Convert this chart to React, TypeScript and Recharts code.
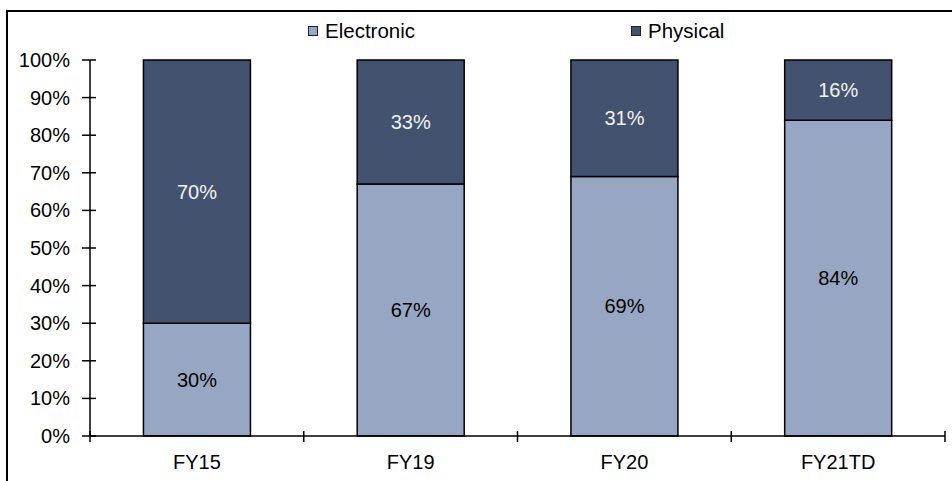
import React from 'react';
import { BarChart, Bar, XAxis, YAxis, LabelList } from 'recharts';

const categories = ['FY15', 'FY19', 'FY20', 'FY21TD'];
const electronic = [30, 67, 69, 84];
const physical = [70, 33, 31, 16];
const yTicks = [0, 10, 20, 30, 40, 50, 60, 70, 80, 90, 100];

const data = categories.map((name, i) => ({
  name,
  Electronic: electronic[i],
  Physical: physical[i],
}));

const FONT = '"Liberation Sans", Arial, sans-serif';
const FONT_SIZE = 20;
const ELECTRONIC_COLOR = '#97A7C3';
const PHYSICAL_COLOR = '#43526F';
const W = 952;
const H = 481;

// y-axis ticks: label plus a mark crossing the axis line
const YTick = (props: any) => {
  const { x, y, payload } = props;
  return (
    <g>
      <line x1={x + 12} x2={x + 26} y1={y} y2={y} stroke="#000" strokeWidth={1.5} />
      <text x={x} y={y} dy={7} textAnchor="end" fontFamily={FONT} fontSize={FONT_SIZE} fill="#000">
        {`${payload.value}%`}
      </text>
    </g>
  );
};

// x-axis ticks: category label at band centre, marks at band boundaries
const XTick = (props: any) => {
  const { x, y, payload, index, width } = props;
  const band = width / categories.length;
  const left = x - band / 2;
  const right = x + band / 2;
  return (
    <g>
      <line x1={left} x2={left} y1={y - 5} y2={y + 6} stroke="#000" strokeWidth={1.5} />
      {index === categories.length - 1 && (
        <line x1={right} x2={right} y1={y - 5} y2={y + 6} stroke="#000" strokeWidth={1.5} />
      )}
      <text x={x} y={y} dy={33} textAnchor="middle" fontFamily={FONT} fontSize={FONT_SIZE} fill="#000">
        {payload.value}
      </text>
    </g>
  );
};

const LegendItem = ({ color, label, left }: { color: string; label: string; left: number }) => (
  <div style={{ position: 'absolute', left, top: 20, display: 'flex', alignItems: 'center' }}>
    <div
      style={{
        width: 8,
        height: 8,
        background: color,
        border: '1px solid #222',
        marginRight: 7,
      }}
    />
    <span style={{ fontFamily: FONT, fontSize: 20.5, color: '#000', lineHeight: '22px' }}>{label}</span>
  </div>
);

export default function App() {
  const labelStyle = { fontFamily: FONT, fontSize: FONT_SIZE };
  return (
    <div style={{ position: 'fixed', left: 0, top: 0, width: W, height: H, background: '#fff', overflow: 'hidden' }}>
      <div
        style={{
          position: 'absolute',
          left: 6,
          top: 10,
          width: W - 6,
          height: H - 10,
          borderLeft: '2px solid #000',
          borderTop: '2px solid #000',
          boxSizing: 'border-box',
        }}
      />
      <LegendItem color={ELECTRONIC_COLOR} label="Electronic" left={308} />
      <LegendItem color={PHYSICAL_COLOR} label="Physical" left={631} />
      <div style={{ position: 'absolute', left: 0, top: 0 }}>
        <BarChart
          width={W}
          height={H}
          data={data}
          margin={{ top: 60, right: 7, bottom: 15, left: 0 }}
          barCategoryGap="25%"
        >
          <XAxis
            dataKey="name"
            tickLine={false}
            tickSize={0}
            tickMargin={0}
            height={30}
            axisLine={{ stroke: '#000', strokeWidth: 1.5 }}
            tick={<XTick />}
            interval={0}
          />
          <YAxis
            width={90}
            domain={[0, 100]}
            ticks={yTicks}
            type="number"
            tickLine={false}
            tickSize={8}
            tickMargin={12}
            axisLine={{ stroke: '#000', strokeWidth: 1.5 }}
            tick={<YTick />}
            interval={0}
          />
          <Bar dataKey="Electronic" stackId="a" fill={ELECTRONIC_COLOR} stroke="#000" strokeWidth={1.5} isAnimationActive={false}>
            <LabelList
              dataKey="Electronic"
              position="center"
              formatter={(v: any) => `${v}%`}
              style={{ ...labelStyle, fill: '#000' }}
            />
          </Bar>
          <Bar dataKey="Physical" stackId="a" fill={PHYSICAL_COLOR} stroke="#000" strokeWidth={1.5} isAnimationActive={false}>
            <LabelList
              dataKey="Physical"
              position="center"
              formatter={(v: any) => `${v}%`}
              style={{ ...labelStyle, fill: '#F2F2F2' }}
            />
          </Bar>
        </BarChart>
      </div>
    </div>
  );
}
